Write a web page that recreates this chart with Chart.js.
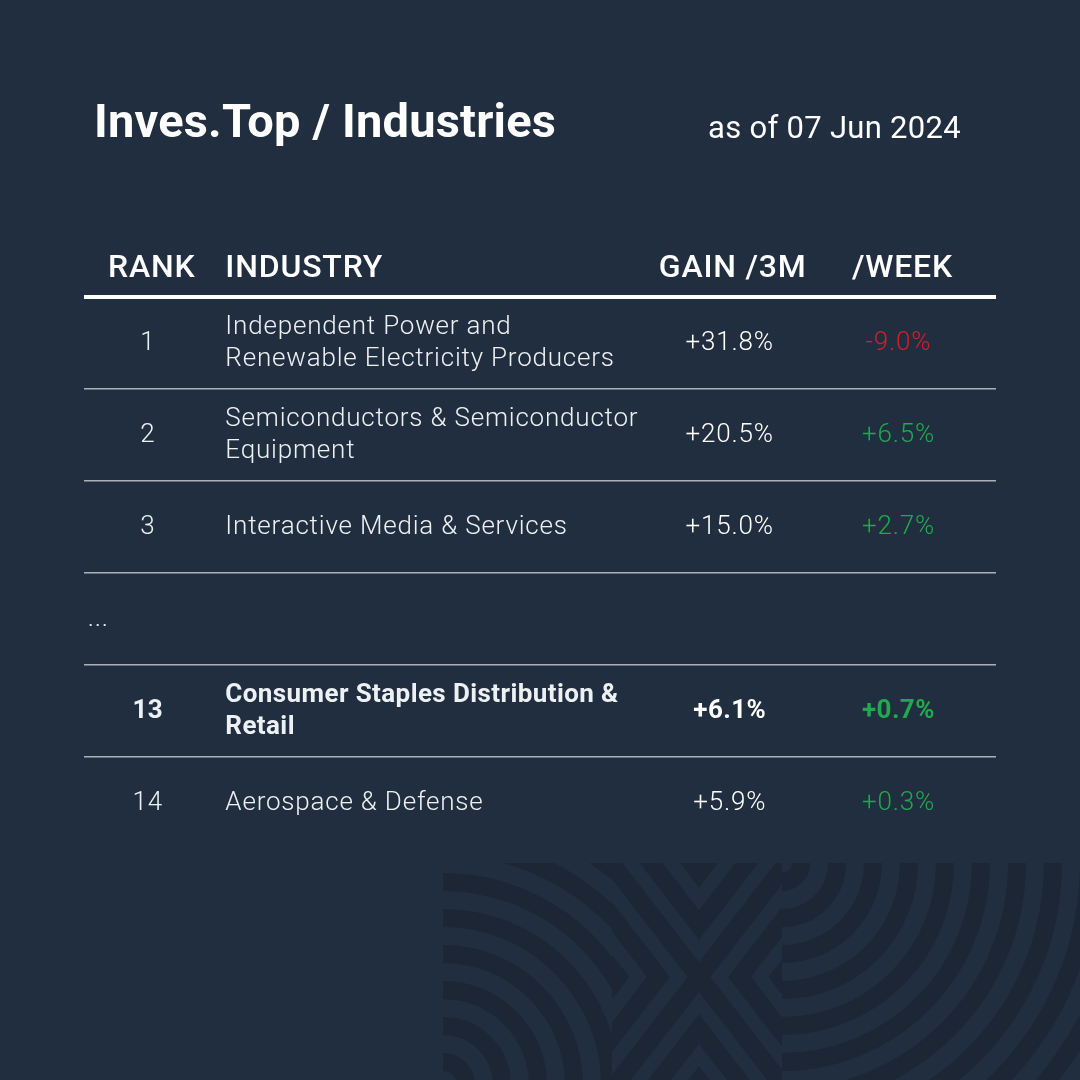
<!DOCTYPE html>
<html>
<head>
<meta charset="utf-8">
<title>Inves.Top / Industries</title>
<script src="https://cdn.jsdelivr.net/npm/chart.js@4.4.1/dist/chart.umd.min.js"></script>
<style>
  html, body { margin: 0; padding: 0; background: #212e3f; }
  canvas { display: block; }
</style>
</head>
<body>
<canvas id="myChart" width="1080" height="1080"></canvas>
<script>
// table data
const ranks = [1, 2, 3, null, 13, 14];
const industries = [
  'Independent Power and\nRenewable Electricity Producers',
  'Semiconductors & Semiconductor\nEquipment',
  'Interactive Media & Services',
  null,
  'Consumer Staples Distribution &\nRetail',
  'Aerospace & Defense'
];
const gain3m = [31.8, 20.5, 15.0, null, 6.1, 5.9];
const gainWeek = [-9.0, 6.5, 2.7, null, 0.7, 0.3];
const headers = ['RANK', 'INDUSTRY', 'GAIN /3M', '/WEEK'];
const highlightRank = 13;
const titleText = 'Inves.Top / Industries';
const asOfText = 'as of 07 Jun 2024';

const rowLabels = ranks.map(r => r === null ? '...' : String(r));

// layout
const colX = [7, 15.5, 70.8, 89.3]; // column anchors on a 0-100 x scale
const headShift = [4, 0, 3, 4];      // header nudges, px
const colAlign = ['center', 'left', 'center', 'center'];
const bg = '#212e3f';
const textCol = '#eef1f4';
const red = '#cc2229';
const green = '#20a94e';

function pct(v) {
  return (v > 0 ? '+' : v < 0 ? '-' : '') + Math.abs(v).toFixed(1) + '%';
}

function drawText(ctx, str, x, y, align, font, color, base, spacing) {
  ctx.save();
  ctx.font = font;
  ctx.fillStyle = color;
  ctx.textAlign = align;
  ctx.textBaseline = base || 'middle';
  ctx.letterSpacing = (spacing || 0) + 'px';
  ctx.fillText(str, x, y);
  ctx.restore();
}

function column(i, texts, colorFn) {
  const pts = [], cells = [];
  texts.forEach((t, j) => {
    if (t === null) return;
    pts.push({x: colX[i], y: rowLabels[j]});
    cells.push({text: t, bold: ranks[j] === highlightRank, color: colorFn ? colorFn(j) : textCol});
  });
  return {label: headers[i], data: pts, cells: cells, align: colAlign[i], pointRadius: 0, pointHoverRadius: 0};
}

const datasets = [
  column(0, ranks.map(r => r === null ? null : String(r))),
  column(1, industries),
  column(2, gain3m.map(v => v === null ? null : pct(v)), () => '#ffffff'),
  column(3, gainWeek.map(v => v === null ? null : pct(v)), j => gainWeek[j] < 0 ? red : green),
  {label: 'gap', data: [{x: 0.4, y: '...'}], cells: [{text: '...', bold: false, color: textCol}],
   align: 'left', pointRadius: 0, pointHoverRadius: 0}
];

function drawPattern(ctx) {
  ctx.save();
  ctx.strokeStyle = '#1c2635';
  ctx.lineWidth = 18;
  // left arcs
  ctx.save();
  ctx.beginPath(); ctx.rect(443, 863, 169, 217); ctx.clip();
  for (let r = 23; r < 420; r += 36) {
    ctx.beginPath(); ctx.arc(443, 1085, r, -Math.PI / 2, 0); ctx.stroke();
  }
  ctx.restore();
  // right arcs
  ctx.save();
  ctx.beginPath(); ctx.rect(782, 863, 298, 217); ctx.clip();
  for (let r = 19; r < 420; r += 36) {
    ctx.beginPath(); ctx.arc(782, 863, r, 0, Math.PI / 2); ctx.stroke();
  }
  ctx.restore();
  // middle X with chevrons
  ctx.save();
  ctx.beginPath(); ctx.rect(612, 863, 170, 217); ctx.clip();
  const cx = 699, cy = 977, dx = 0.61, dy = 0.79, L = 260;
  ctx.beginPath();
  ctx.moveTo(cx - dx * L, cy - dy * L); ctx.lineTo(cx + dx * L, cy + dy * L);
  ctx.moveTo(cx + dx * L, cy - dy * L); ctx.lineTo(cx - dx * L, cy + dy * L);
  ctx.stroke();
  for (let d = 52; d < 200; d += 52) {
    ctx.beginPath();
    ctx.moveTo(cx - dx * L, cy - d - dy * L); ctx.lineTo(cx, cy - d); ctx.lineTo(cx + dx * L, cy - d - dy * L);
    ctx.moveTo(cx - dx * L, cy + d + dy * L); ctx.lineTo(cx, cy + d); ctx.lineTo(cx + dx * L, cy + d + dy * L);
    const h = d * 0.78;
    ctx.moveTo(cx - h - dx * L, cy - dy * L); ctx.lineTo(cx - h, cy); ctx.lineTo(cx - h - dx * L, cy + dy * L);
    ctx.moveTo(cx + h + dx * L, cy - dy * L); ctx.lineTo(cx + h, cy); ctx.lineTo(cx + h + dx * L, cy + dy * L);
    ctx.stroke();
  }
  ctx.restore();
  ctx.restore();
}

const tablePlugin = {
  id: 'tablePlugin',
  beforeDraw(chart) {
    const ctx = chart.ctx;
    ctx.save();
    ctx.fillStyle = bg;
    ctx.fillRect(0, 0, chart.width, chart.height);
    drawPattern(ctx);
    ctx.restore();
  },
  afterDatasetsDraw(chart) {
    const ctx = chart.ctx;
    chart.data.datasets.forEach((ds, i) => {
      const meta = chart.getDatasetMeta(i);
      meta.data.forEach((pt, j) => {
        const c = ds.cells[j];
        const lines = c.text.split('\n');
        lines.forEach((ln, k) => {
          const y = pt.y + (k - (lines.length - 1) / 2) * 32;
          if (c.bold) {
            drawText(ctx, ln, pt.x, y, ds.align, '700 26px Roboto', c.color, 'middle', 0.4);
          } else {
            drawText(ctx, ln, pt.x, y, ds.align, '300 26px Roboto', c.color, 'middle', 0.8);
          }
        });
      });
    });
  },
  afterDraw(chart) {
    const ctx = chart.ctx;
    const x = chart.scales.x;
    const top = chart.chartArea.top;
    headers.forEach((h, i) => {
      drawText(ctx, h, x.getPixelForValue(colX[i]) + headShift[i], top - 20, colAlign[i],
        '500 32px Roboto', '#ffffff', 'alphabetic', 0.8);
    });
    drawText(ctx, titleText, 94, 137, 'left', '700 47px Roboto', '#ffffff', 'alphabetic', 0.2);
    drawText(ctx, asOfText, 961, 138, 'right', '400 31px Roboto', '#ffffff', 'alphabetic', 0.3);
  }
};

const config = {
  type: 'scatter',
  data: {datasets: datasets},
  options: {
    responsive: false,
    animation: false,
    events: [],
    layout: {padding: {left: 84, right: 84, top: 297, bottom: 231}},
    plugins: {legend: {display: false}, tooltip: {enabled: false}},
    scales: {
      x: {type: 'linear', min: 0, max: 100, display: false},
      y: {
        type: 'category',
        labels: rowLabels,
        offset: true,
        grid: {
          offset: true,
          drawTicks: false,
          color: c => c.type !== 'tick' ? 'rgba(0,0,0,0)' : (c.index === 0 ? '#ffffff' : '#aab1ba'),
          lineWidth: c => c.type === 'tick' && c.index === 0 ? 4 : 1.5
        },
        ticks: {display: false},
        border: {display: false}
      }
    }
  },
  plugins: [tablePlugin]
};

const myChart = new Chart(document.getElementById('myChart'), config);
</script>
</body>
</html>
